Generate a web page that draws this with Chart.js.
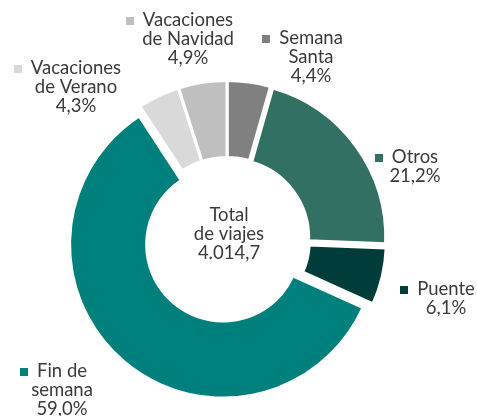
<!DOCTYPE html>
<html>
<head>
<meta charset="utf-8">
<script src="https://cdn.jsdelivr.net/npm/chart.js@4.4.0/dist/chart.umd.min.js"></script>
<style>
  html, body { margin: 0; padding: 0; background: #ffffff; }
  canvas { display: block; }
</style>
</head>
<body>
<canvas id="c" width="477" height="416"></canvas>
<script>
// ---- data ----
const categories = ['Semana Santa', 'Otros', 'Puente', 'Fin de semana', 'Vacaciones de Verano', 'Vacaciones de Navidad'];
const shares = [4.4, 21.2, 6.1, 59.0, 4.3, 4.9];
const labelLines = [['Semana', 'Santa'], ['Otros'], ['Puente'], ['Fin de', 'semana'], ['Vacaciones', 'de Verano'], ['Vacaciones', 'de Navidad']];
const totalLines = ['Total', 'de viajes', '4.014,7'];

// ---- styles ----
const colors = ['#808080', '#317063', '#003d3a', '#00807c', '#d9d9d9', '#bfbfbf'];
const explode = [1, 4, 9, 6, 2, 0];
const labelAnchors = [[311, 38], [415, 157], [446, 289], [62, 371], [76, 68], [188, 20]];
const FONT = '400 18.5px Lato, "Open Sans", sans-serif';
const TEXT_COLOR = '#3a3a3a';
const LINE_H = 19;

const fmt = v => v.toFixed(1).replace('.', ',') + '%';

const explodePlugin = {
  id: 'explode',
  afterDatasetUpdate(chart, args) {
    const arcs = args.meta.data;
    arcs.forEach((arc, i) => {
      const d = explode[i] || 0;
      if (!d) return;
      const mid = (arc.startAngle + arc.endAngle) / 2;
      arc.x += Math.cos(mid) * d;
      arc.y += Math.sin(mid) * d;
      arc.outerRadius -= d;
      arc.innerRadius -= d;
    });
  }
};

const labelsPlugin = {
  id: 'labels',
  afterDraw(chart) {
    const ctx = chart.ctx;
    const area = chart.chartArea;
    const cx = (area.left + area.right) / 2;
    const cy = (area.top + area.bottom) / 2;
    ctx.save();
    ctx.font = FONT;
    ctx.fillStyle = TEXT_COLOR;
    ctx.textAlign = 'center';
    ctx.textBaseline = 'middle';
    // centre text
    totalLines.forEach((t, k) => {
      ctx.fillText(t, cx + 2, cy - 25 + k * LINE_H);
    });
    // outer labels
    categories.forEach((cat, i) => {
      const [x, y] = labelAnchors[i];
      const lines = labelLines[i].concat([fmt(shares[i])]);
      ctx.fillStyle = TEXT_COLOR;
      lines.forEach((t, k) => ctx.fillText(t, x, y + k * LINE_H));
      const w0 = ctx.measureText(lines[0]).width;
      ctx.fillStyle = colors[i];
      ctx.fillRect(Math.round(x - w0 / 2 - 9 - 8), Math.round(y - 3.5), 8, 8);
    });
    ctx.restore();
  }
};

new Chart(document.getElementById('c'), {
  type: 'doughnut',
  data: {
    labels: categories,
    datasets: [{
      data: shares,
      backgroundColor: colors,
      borderColor: '#ffffff',
      borderWidth: 3,
      borderJoinStyle: 'miter',
      hoverOffset: 0
    }]
  },
  options: {
    responsive: false,
    animation: false,
    radius: 159.5,
    cutout: '51.7%',
    rotation: 0,
    layout: { padding: { left: 0, right: 23, top: 64, bottom: 0 } },
    plugins: {
      legend: { display: false },
      tooltip: { enabled: false }
    },
    events: []
  },
  plugins: [explodePlugin, labelsPlugin]
});
</script>
</body>
</html>
